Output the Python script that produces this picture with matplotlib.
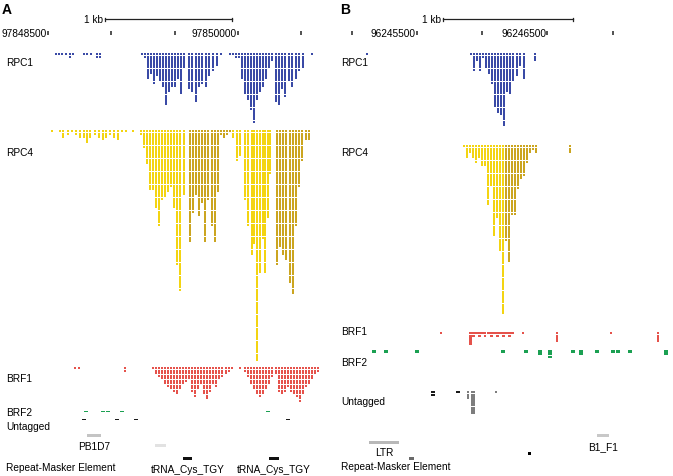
import numpy as np
import matplotlib
matplotlib.use("Agg")
import matplotlib.pyplot as plt

plt.rcParams['font.family'] = ['Liberation Sans', 'DejaVu Sans']

# ---------------- data: panel A (chr coordinates, read counts per column) ----------------
a_ticks = [97848500, 97849000, 97849500, 97850000, 97850500]
a_tick_labels = {97848500: "97848500", 97850000: "97850000"}
a_scalebar = (97848950, 97849950)

rpc1_a_pos = [97848565, 97848589, 97848613, 97848644, 97848676, 97848699, 97848786, 97848810,
              97848841, 97848889, 97848912,
              97849243, 97849267, 97849290, 97849314, 97849337, 97849361, 97849385, 97849408,
              97849432, 97849456, 97849479, 97849503, 97849526, 97849550, 97849574,
              97849613, 97849637, 97849669, 97849692, 97849716, 97849747, 97849771, 97849802,
              97849834, 97849866,
              97849937, 97849960, 97849984, 97850008, 97850031, 97850055, 97850078, 97850102,
              97850126, 97850150, 97850173, 97850197, 97850221, 97850244, 97850268,
              97850300, 97850323, 97850347, 97850371, 97850402, 97850426, 97850457, 97850481,
              97850513, 97850584]
rpc1_a_cnt = [1, 1, 1, 1, 2, 1, 1, 1, 1, 2, 2,
              1, 2, 10, 8, 12, 9, 11, 13, 20, 15, 13, 13, 10, 16, 6,
              14, 15, 19, 13, 12, 13, 9, 7, 5, 1,
              1, 1, 2, 2, 10, 16, 18, 22, 27, 18, 15, 13, 10, 6, 3,
              19, 20, 14, 17, 11, 13, 10, 7, 6, 1]

rpc4_a_yellow_pos = [97848534, 97848597, 97848621, 97848660, 97848692, 97848723, 97848755,
                     97848786, 97848810, 97848833, 97848873, 97848904, 97848936, 97848960,
                     97848991, 97849023, 97849054, 97849086, 97849117, 97849172,
                     97849235, 97849259, 97849283, 97849306, 97849330, 97849353, 97849377,
                     97849400, 97849424, 97849448, 97849471, 97849495, 97849519, 97849542,
                     97849574,
                     97849960, 97849992, 97850016, 97850055, 97850078, 97850110, 97850126,
                     97850150, 97850173, 97850197, 97850213, 97850236, 97850252]
rpc4_a_yellow_cnt = [1, 1, 3, 2, 1, 2, 3, 3, 5, 3, 2, 3, 4, 3, 2, 3, 4, 1, 1, 1,
                     2, 7, 13, 23, 23, 30, 37, 27, 26, 24, 22, 30, 52, 62, 25,
                     3, 12, 10, 27, 37, 48, 44, 89, 55, 42, 55, 34, 17]
rpc4_a_gold_pos = [97849621, 97849645, 97849669, 97849692, 97849716, 97849739, 97849763,
                   97849795, 97849818, 97849842, 97849866, 97849889, 97849913, 97849937,
                   97850308, 97850331, 97850355, 97850379, 97850410, 97850434, 97850457,
                   97850481, 97850505, 97850536, 97850560]
rpc4_a_gold_cnt = [43, 32, 25, 33, 28, 43, 27, 37, 43, 24, 2, 3, 2, 1,
                   52, 45, 48, 50, 59, 63, 37, 22, 12, 4, 4]

brf1_a_pos = [97848716, 97848747, 97849109,
              97849330, 97849353, 97849377, 97849400, 97849424, 97849448, 97849471, 97849495,
              97849519, 97849542, 97849566, 97849590, 97849613, 97849637, 97849661, 97849684,
              97849708, 97849732, 97849755, 97849779, 97849802, 97849826, 97849850, 97849873,
              97849905, 97849929, 97849952, 97850016,
              97850055, 97850078, 97850102, 97850126, 97850150, 97850173, 97850197, 97850221,
              97850244, 97850268, 97850300, 97850323, 97850347, 97850371, 97850394, 97850418,
              97850442, 97850465, 97850489, 97850513, 97850536, 97850560, 97850584, 97850607,
              97850631]
brf1_a_cnt = [1, 1, 2,
              1, 3, 4, 5, 7, 8, 9, 10, 11, 9, 7, 6, 5, 10, 12, 9, 7, 11, 13, 10, 7, 8, 5, 4,
              3, 2, 1, 1,
              2, 4, 7, 9, 11, 12, 11, 9, 7, 4, 3, 10, 11, 10, 8, 10, 11, 12, 14, 11, 8, 7, 5,
              3, 2]

brf2_a_pos = [97848803, 97848936, 97848975, 97849086, 97850237]
brf2_a_cnt = [1, 1, 1, 1, 1]
untag_a_pos = [97848786, 97849046, 97849196, 97850394]
untag_a_cnt = [1, 1, 1, 1]

# repeat-masker elements: (start, end, label, colour)
rm_a = [(97848810, 97848921, "PB1D7", "#c4c4c4"),
        (97849345, 97849432, "", "#e2e2e2"),
        (97849566, 97849637, "tRNA_Cys_TGY", "#111111"),
        (97850244, 97850323, "tRNA_Cys_TGY", "#111111")]

# ---------------- data: panel B ----------------
b_ticks = [96245000, 96245500, 96246000, 96246500, 96247000]
b_tick_labels = {96245500: "96245500", 96246500: "96246500"}
b_scalebar = (96245697, 96246697)

rpc1_b_pos = [96245117, 96245914, 96245937, 96245960, 96245983, 96246006, 96246029, 96246052,
              96246075, 96246098, 96246121, 96246144, 96246167, 96246190, 96246213, 96246236,
              96246267, 96246290, 96246321, 96246405]
rpc1_b_cnt = [1, 1, 7, 3, 7, 2, 6, 8, 12, 21, 23, 24, 28, 15, 16, 11, 9, 5, 10, 3]

rpc4_b_yellow_pos = [96245861, 96245884, 96245907, 96245930, 96245953, 96245976, 96245999,
                     96246021, 96246045, 96246068, 96246091, 96246114, 96246137, 96246160]
rpc4_b_yellow_cnt = [1, 5, 3, 5, 7, 5, 8, 8, 23, 16, 35, 28, 41, 65]
rpc4_b_gold_pos = [96246183, 96246206, 96246229, 96246251, 96246274, 96246298, 96246321,
                   96246344, 96246367, 96246390, 96246413, 96246673]
rpc4_b_gold_cnt = [37, 45, 27, 27, 17, 13, 12, 7, 3, 2, 3, 3]

brf1_b_pos = [96245684, 96245907, 96245930, 96245953, 96245976, 96245999, 96246021, 96246045,
              96246068, 96246091, 96246114, 96246137, 96246160, 96246183, 96246206, 96246229,
              96246313, 96246573, 96246987, 96247347]
brf1_b_cnt = [1, 5, 2, 1, 2, 1, 2, 1, 2, 1, 2, 1, 2, 1, 2, 1, 1, 4, 1, 4]

brf2_b_pos = [96245171, 96245263, 96245500, 96246160, 96246336, 96246443, 96246520, 96246696,
              96246757, 96246880, 96247002, 96247041, 96247133, 96247408]
brf2_b_cnt = [1, 1, 1, 1, 1, 2, 3, 1, 2, 1, 1, 1, 1, 2]

untag_b_black_pos = [96245623, 96245815]
untag_b_black_cnt = [2, 1]
untag_b_gray_pos = [96245892, 96245922, 96245937, 96246106]
untag_b_gray_cnt = [3, 9, 9, 1]

rm_b = [(96245133, 96245363, "LTR", "#b8b8b8"),
        (96245439, 96245477, "", "#6a6a6a"),
        (96246352, 96246375, "", "#000000"),
        (96246880, 96246972, "B1_F1", "#c8c8c8")]

# ---------------- styling ----------------
BLUE = "#3A4AA6"
YELLOW = "#F3D412"
GOLD = "#CBA520"
RED = "#E5524B"
GREEN = "#1BA052"
BLACK = "#1a1a1a"
GRAY = "#7d7d7d"
FS = 7.3

W, H = 673, 477
fig = plt.figure(figsize=(W / 100, H / 100), dpi=100)
axA = fig.add_axes([0, 0, 335 / W, 1])
axB = fig.add_axes([335 / W, 0, 338 / W, 1])
axA.set_xlim(97848124, 97850764)
axB.set_xlim(96244872, 96247462)
for ax in (axA, axB):
    ax.set_ylim(H, 0)
    ax.axis("off")


def reads(ax, pos, cnt, top, color, width=20, row=2.6, fill=0.9):
    pos = np.asarray(pos)
    cnt = np.asarray(cnt)
    xs = np.repeat(pos, cnt)
    k = np.concatenate([np.arange(c) for c in cnt])
    ax.bar(xs, row * fill, bottom=top + k * row, width=width, color=color,
           linewidth=0, align="center")


def ruler(ax, ticks, labels, bar):
    ax.plot([bar[0], bar[1]], [20, 20], color="#222222", lw=0.9)
    ax.plot([bar[0], bar[0]], [18.5, 21.5], color="#222222", lw=0.9)
    ax.plot([bar[1], bar[1]], [18.5, 21.5], color="#222222", lw=0.9)
    ax.text(bar[0] - 12, 20, "1 kb", ha="right", va="center", fontsize=FS)
    for t in ticks:
        ax.plot([t, t], [32.3, 35.7], color="#222222", lw=1.1, solid_capstyle="butt")
        if t in labels:
            ax.text(t - 8, 34, labels[t], ha="right", va="center", fontsize=FS)


def repeats(ax, items, ys, label_ys):
    for (s, e, lab, col), y, ly in zip(items, ys, label_ys):
        ax.bar([s], [3], bottom=y - 1.5, width=e - s, align="edge", color=col, linewidth=0)
        if lab:
            ax.text((s + e) / 2, ly, lab, ha="center", va="center", fontsize=FS)


# Panel A
ruler(axA, a_ticks, a_tick_labels, a_scalebar)
reads(axA, rpc1_a_pos, rpc1_a_cnt, 54, BLUE)
reads(axA, rpc4_a_yellow_pos, rpc4_a_yellow_cnt, 131, YELLOW)
reads(axA, rpc4_a_gold_pos, rpc4_a_gold_cnt, 131, GOLD)
reads(axA, brf1_a_pos, brf1_a_cnt, 368, RED, row=2.5)
reads(axA, brf2_a_pos, brf2_a_cnt, 411.5, GREEN, width=30, row=2.0, fill=0.6)
reads(axA, untag_a_pos, untag_a_cnt, 419.5, BLACK, width=30, row=2.0, fill=0.6)
repeats(axA, rm_a, [436, 446, 459, 459], [447, 0, 470, 470])

# Panel B
ruler(axB, b_ticks, b_tick_labels, b_scalebar)
reads(axB, rpc1_b_pos, rpc1_b_cnt, 54, BLUE, width=19)
reads(axB, rpc4_b_yellow_pos, rpc4_b_yellow_cnt, 146, YELLOW, width=19)
reads(axB, rpc4_b_gold_pos, rpc4_b_gold_cnt, 146, GOLD, width=19)
reads(axB, brf1_b_pos, brf1_b_cnt, 333, RED, width=22)
reads(axB, brf2_b_pos, brf2_b_cnt, 351, GREEN, width=26, row=2.8)
reads(axB, untag_b_black_pos, untag_b_black_cnt, 392, BLACK, width=24)
reads(axB, untag_b_gray_pos, untag_b_gray_cnt, 392, GRAY, width=19)
repeats(axB, rm_b, [443, 459, 454, 436], [453, 0, 0, 447])


def ftext(x, y, s, **kw):
    fig.text(x / W, 1 - y / H, s, ha="left", va="center", **kw)


ftext(2, 10, "A", fontsize=10, fontweight="bold")
ftext(340, 10, "B", fontsize=10, fontweight="bold")
for (y, s) in [(63, "RPC1"), (153, "RPC4"), (379, "BRF1"), (413, "BRF2"), (427, "Untagged"),
               (468, "Repeat-Masker Element")]:
    ftext(6, y, s, fontsize=FS)
for (y, s) in [(63, "RPC1"), (153, "RPC4"), (332, "BRF1"), (363, "BRF2"), (402, "Untagged"),
               (467, "Repeat-Masker Element")]:
    ftext(341, y, s, fontsize=FS)

fig.savefig("out.png", dpi=100)
